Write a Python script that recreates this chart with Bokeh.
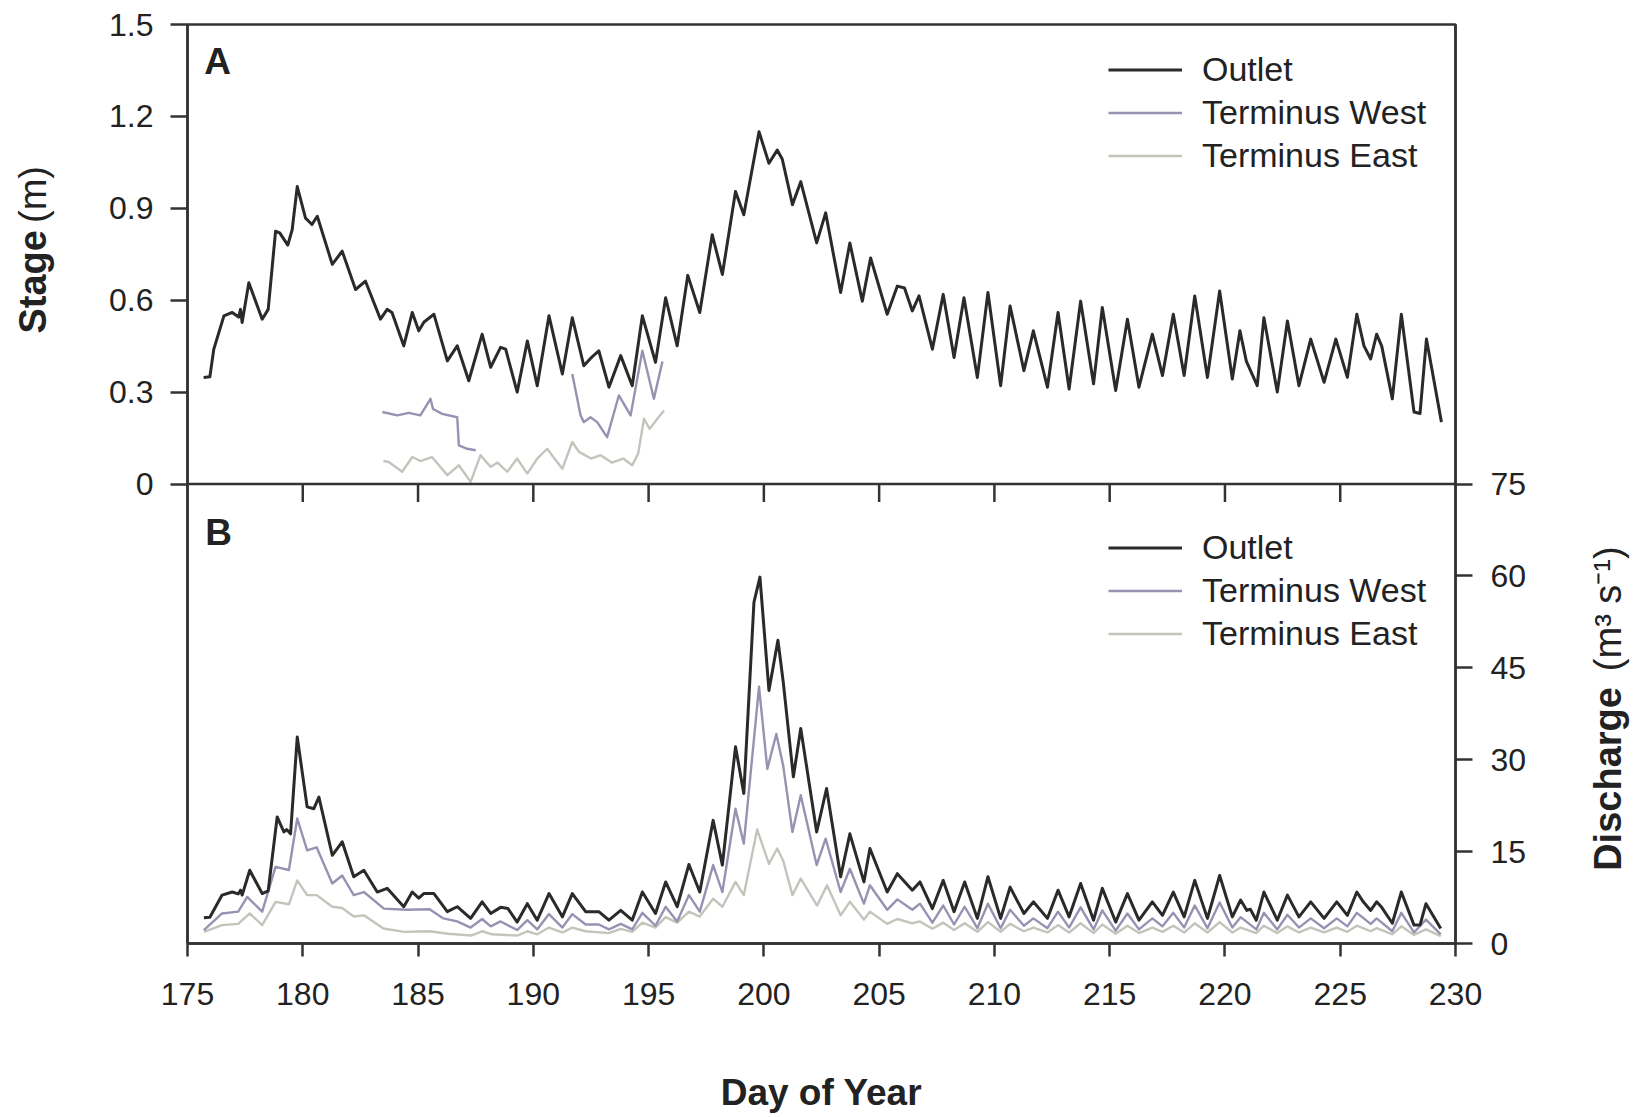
import math
from bokeh.plotting import figure
from bokeh.layouts import row
from bokeh.models import Range1d, LinearAxis, FixedTicker, Span, Label, Legend, LegendItem
from bokeh.embed import file_html
from bokeh.resources import INLINE

NaN = float("nan")

# ---------------- axes / ticks ----------------
day_ticks = [175, 180, 185, 190, 195, 200, 205, 210, 215, 220, 225, 230]
stage_ticks = [0, 0.3, 0.6, 0.9, 1.2, 1.5]
stage_tick_labels = ["0", "0.3", "0.6", "0.9", "1.2", "1.5"]
discharge_ticks = [0, 15, 30, 45, 60, 75]

series_names = ["Outlet", "Terminus West", "Terminus East"]

# ---------------- Panel A: stage (m) ----------------
outlet_stage_day = [175.70, 175.97, 176.14, 176.58, 176.94, 177.22, 177.30, 177.37, 177.66, 178.24,
                    178.50, 178.82, 179.00, 179.35, 179.54, 179.76, 180.12, 180.40, 180.63, 181.28,
                    181.71, 182.29, 182.72, 183.37, 183.66, 183.87, 184.38, 184.75, 185.03, 185.26,
                    185.69, 186.27, 186.70, 187.20, 187.78, 188.15, 188.58, 188.80, 189.30, 189.74,
                    190.17, 190.68, 191.26, 191.69, 192.19, 192.48, 192.84, 193.28, 193.79, 194.29,
                    194.73, 195.30, 195.74, 196.24, 196.70, 197.22, 197.76, 198.20, 198.77, 199.13,
                    199.79, 200.22, 200.58, 200.80, 201.24, 201.60, 202.29, 202.68, 203.33, 203.73,
                    204.27, 204.63, 205.35, 205.79, 206.10, 206.44, 206.73, 207.31, 207.78, 208.25,
                    208.68, 209.26, 209.72, 210.27, 210.68, 211.28, 211.69, 212.30, 212.76, 213.24,
                    213.74, 214.30, 214.68, 215.26, 215.77, 216.27, 216.85, 217.29, 217.76, 218.23,
                    218.69, 219.24, 219.77, 220.32, 220.65, 220.93, 221.40, 221.69, 222.27, 222.71,
                    223.21, 223.72, 224.30, 224.81, 225.31, 225.72, 226.03, 226.32, 226.58, 226.80,
                    227.26, 227.65, 228.20, 228.46, 228.74, 229.39]
outlet_stage = [0.348, 0.350, 0.440, 0.549, 0.560, 0.545, 0.570, 0.527, 0.657, 0.538,
                0.570, 0.825, 0.820, 0.780, 0.830, 0.971, 0.868, 0.847, 0.874, 0.717,
                0.760, 0.635, 0.662, 0.538, 0.570, 0.560, 0.451, 0.560, 0.500, 0.529,
                0.554, 0.402, 0.451, 0.337, 0.489, 0.381, 0.446, 0.440, 0.300, 0.467,
                0.321, 0.549, 0.359, 0.543, 0.386, 0.410, 0.435, 0.316, 0.419, 0.321,
                0.549, 0.397, 0.608, 0.451, 0.681, 0.560, 0.814, 0.684, 0.955, 0.879,
                1.150, 1.047, 1.090, 1.060, 0.912, 0.987, 0.787, 0.885, 0.625, 0.787,
                0.597, 0.738, 0.554, 0.646, 0.640, 0.565, 0.614, 0.440, 0.619, 0.413,
                0.608, 0.348, 0.625, 0.321, 0.581, 0.370, 0.500, 0.316, 0.560, 0.310,
                0.597, 0.327, 0.576, 0.305, 0.538, 0.316, 0.489, 0.354, 0.554, 0.354,
                0.614, 0.348, 0.630, 0.343, 0.500, 0.400, 0.321, 0.543, 0.300, 0.532,
                0.321, 0.473, 0.332, 0.473, 0.348, 0.554, 0.451, 0.408, 0.489, 0.450,
                0.278, 0.554, 0.235, 0.230, 0.473, 0.202]

west_stage_day = [183.45, 184.10, 184.60, 185.10, 185.54, 185.65, 186.05, 186.70, 186.77, 187.13,
                  187.50, 187.60,
                  191.69, 192.05, 192.19, 192.48, 192.77, 193.20, 193.71, 194.22, 194.73, 195.23,
                  195.60]
west_stage = [0.235, 0.224, 0.232, 0.224, 0.278, 0.245, 0.229, 0.218, 0.126, 0.115,
              0.110, NaN,
              0.359, 0.224, 0.202, 0.218, 0.202, 0.153, 0.289, 0.224, 0.435, 0.278,
              0.400]

east_stage_day = [183.50, 183.73, 184.31, 184.75, 185.10, 185.60, 186.27, 186.77, 187.28, 187.71,
                  188.15, 188.45, 188.87, 189.30, 189.74, 190.17, 190.60, 190.85, 191.26, 191.69,
                  191.98, 192.50, 192.92, 193.40, 193.90, 194.29, 194.55, 194.80, 195.05, 195.38,
                  195.67]
east_stage = [0.075, 0.072, 0.040, 0.088, 0.075, 0.088, 0.029, 0.061, 0.007, 0.094,
              0.056, 0.070, 0.040, 0.083, 0.034, 0.083, 0.115, 0.090, 0.050, 0.137,
              0.105, 0.083, 0.094, 0.070, 0.083, 0.061, 0.100, 0.213, 0.180, 0.213,
              0.240]

# ---------------- Panel B: discharge (m3 s-1) ----------------
outlet_q_day = [175.71, 175.97, 176.50, 176.94, 177.20, 177.30, 177.37, 177.70, 178.24, 178.50,
                178.89, 179.18, 179.30, 179.47, 179.76, 180.19, 180.48, 180.70, 181.28, 181.71,
                182.21, 182.65, 183.23, 183.66, 184.38, 184.75, 185.03, 185.25, 185.69, 186.27,
                186.70, 187.28, 187.78, 188.15, 188.58, 188.90, 189.30, 189.74, 190.17, 190.68,
                191.26, 191.69, 192.27, 192.84, 193.28, 193.79, 194.29, 194.73, 195.30, 195.74,
                196.24, 196.75, 197.22, 197.80, 198.20, 198.77, 199.13, 199.57, 199.83, 200.22,
                200.61, 200.84, 201.28, 201.60, 202.29, 202.72, 203.33, 203.73, 204.34, 204.60,
                205.35, 205.79, 206.44, 206.77, 207.31, 207.78, 208.25, 208.71, 209.26, 209.72,
                210.27, 210.68, 211.28, 211.69, 212.30, 212.76, 213.24, 213.74, 214.30, 214.68,
                215.26, 215.77, 216.27, 216.85, 217.29, 217.76, 218.23, 218.69, 219.24, 219.77,
                220.32, 220.68, 220.95, 221.10, 221.36, 221.69, 222.27, 222.71, 223.21, 223.72,
                224.30, 224.85, 225.31, 225.72, 226.00, 226.32, 226.58, 226.80, 227.26, 227.65,
                228.20, 228.46, 228.72, 229.36]
outlet_q = [4.2, 4.3, 7.9, 8.4, 8.1, 8.7, 7.9, 11.95, 8.15, 8.6,
            20.65, 18.2, 18.6, 17.9, 33.7, 22.3, 22.0, 23.9, 14.4, 16.6,
            10.9, 11.95, 8.4, 9.0, 6.0, 8.4, 7.4, 8.15, 8.15, 5.2,
            6.0, 4.1, 6.8, 4.9, 5.9, 5.7, 3.5, 6.5, 3.8, 8.15,
            4.35, 8.15, 5.2, 5.2, 3.8, 5.4, 3.8, 8.4, 4.9, 10.05,
            6.0, 12.9, 8.4, 20.1, 12.8, 32.1, 24.5, 55.7, 59.8, 41.3,
            49.5, 42.7, 27.2, 35.1, 18.2, 25.3, 10.9, 17.9, 10.05, 15.5,
            8.4, 11.4, 8.7, 10.05, 5.7, 10.3, 5.2, 10.05, 4.1, 10.9,
            4.1, 9.2, 4.9, 6.8, 4.1, 8.7, 4.35, 9.8, 3.8, 9.0,
            3.5, 8.15, 3.8, 6.8, 4.6, 8.4, 4.35, 10.3, 4.1, 11.1,
            4.35, 7.1, 5.4, 5.6, 3.8, 8.4, 3.8, 7.9, 4.35, 6.8,
            4.1, 6.8, 4.6, 8.4, 6.8, 5.4, 6.8, 5.9, 3.3, 8.4,
            3.0, 3.0, 6.5, 2.45]

west_q_day = [175.71, 176.50, 177.20, 177.59, 178.24, 178.82, 179.40, 179.76, 180.19, 180.60,
              181.28, 181.71, 182.21, 182.65, 183.52, 184.50, 185.50, 186.10, 186.70, 187.28,
              187.78, 188.15, 188.58, 189.30, 189.74, 190.17, 190.68, 191.26, 191.69, 192.27,
              192.84, 193.28, 193.79, 194.29, 194.73, 195.30, 195.74, 196.24, 196.75, 197.22,
              197.80, 198.20, 198.77, 199.13, 199.79, 200.15, 200.54, 200.84, 201.24, 201.60,
              202.29, 202.68, 203.33, 203.73, 204.34, 204.60, 205.35, 205.79, 206.44, 206.77,
              207.31, 207.78, 208.25, 208.71, 209.26, 209.72, 210.27, 210.68, 211.28, 211.69,
              212.30, 212.76, 213.24, 213.74, 214.30, 214.68, 215.26, 215.77, 216.27, 216.85,
              217.29, 217.76, 218.23, 218.69, 219.24, 219.77, 220.32, 220.68, 221.36, 221.69,
              222.27, 222.71, 223.21, 223.72, 224.30, 224.85, 225.31, 225.72, 226.32, 226.58,
              227.26, 227.65, 228.20, 228.72, 229.36]
west_q = [2.2, 4.9, 5.2, 7.6, 5.2, 12.5, 12.0, 20.4, 15.2, 15.7,
          9.8, 11.1, 7.9, 8.4, 5.7, 5.5, 5.6, 4.1, 3.6, 2.6,
          4.0, 2.8, 3.6, 2.2, 3.8, 2.3, 4.8, 2.6, 4.8, 3.1,
          3.1, 2.3, 3.2, 2.3, 5.0, 2.9, 6.0, 3.6, 7.9, 5.2,
          12.8, 8.4, 22.0, 16.3, 41.9, 28.5, 34.2, 29.0, 18.2, 24.2,
          12.8, 17.1, 8.4, 12.2, 6.5, 9.5, 5.5, 7.2, 5.5, 6.5,
          3.4, 6.2, 3.1, 6.0, 2.5, 6.5, 2.5, 5.5, 2.9, 4.1,
          2.5, 5.2, 2.6, 5.9, 2.3, 5.4, 2.1, 4.9, 2.3, 4.1,
          2.8, 5.0, 2.6, 6.2, 2.5, 6.7, 2.6, 4.3, 2.3, 5.0,
          2.3, 4.7, 2.6, 4.1, 2.5, 4.1, 2.8, 5.0, 3.2, 4.1,
          2.0, 5.0, 1.8, 3.9, 1.5]

east_q_day = [175.71, 176.50, 177.20, 177.70, 178.24, 178.82, 179.40, 179.76, 180.19, 180.60,
              181.28, 181.71, 182.21, 182.65, 183.50, 184.40, 185.50, 186.30, 187.30, 187.80,
              188.20, 189.30, 189.74, 190.17, 190.68, 191.26, 191.69, 192.27, 193.28, 193.79,
              194.29, 194.73, 195.30, 195.74, 196.24, 196.75, 197.22, 197.80, 198.20, 198.77,
              199.13, 199.71, 200.22, 200.58, 200.84, 201.24, 201.60, 202.31, 202.74, 203.33,
              203.73, 204.34, 204.60, 205.35, 205.79, 206.44, 206.77, 207.31, 207.78, 208.25,
              208.71, 209.26, 209.72, 210.27, 210.68, 211.28, 211.69, 212.30, 212.76, 213.24,
              213.74, 214.30, 214.68, 215.26, 215.77, 216.27, 216.85, 217.29, 217.76, 218.23,
              218.69, 219.24, 219.77, 220.32, 220.68, 221.36, 221.69, 222.27, 222.71, 223.21,
              223.72, 224.30, 224.85, 225.31, 225.72, 226.32, 226.58, 227.26, 227.65, 228.20,
              228.72, 229.36]
east_q = [1.9, 3.0, 3.2, 4.9, 3.0, 6.8, 6.4, 10.3, 7.9, 7.9,
          6.0, 5.8, 4.4, 4.6, 2.45, 1.9, 2.0, 1.6, 1.3, 2.0,
          1.5, 1.3, 2.0, 1.5, 2.6, 1.8, 2.6, 2.0, 1.7, 2.4,
          1.9, 3.4, 2.6, 4.3, 3.4, 5.2, 4.4, 7.3, 6.0, 10.05,
          7.9, 18.6, 13.0, 15.5, 13.5, 7.9, 10.6, 6.2, 9.5, 4.6,
          6.8, 3.9, 5.2, 3.2, 4.0, 3.3, 3.6, 2.4, 3.4, 2.2,
          3.3, 1.9, 3.5, 1.9, 3.2, 2.0, 2.6, 1.8, 3.0, 1.8,
          3.3, 1.7, 3.1, 1.6, 2.9, 1.7, 2.6, 1.9, 2.9, 1.8,
          3.3, 1.8, 3.5, 1.8, 2.6, 1.7, 2.9, 1.7, 2.8, 1.8,
          2.6, 1.8, 2.6, 1.9, 2.9, 2.0, 2.5, 1.5, 2.8, 1.4,
          2.3, 1.2]

# ---------------- styling ----------------
FONT = "Liberation Sans"
AX = "#333333"
TXT = "#222222"
OUTLET_C = "#2a2a2a"
WEST_C = "#9494b2"
EAST_C = "#c4c4bc"
AXW = 2.5

H = 1115            # height of every figure
TOP = 24            # frame top (page px)
BOTTOM = H - 945    # space below frame
SIDE_W = 60         # width of the side strips holding the rotated titles
MAIN_W = 1515

y_range = Range1d(-1.5, 1.5)   # stage scale: panel A is the upper half


def strip(width):
    f = figure(width=width, height=H, output_backend="svg", toolbar_location=None,
               x_range=Range1d(0, width), y_range=y_range,
               x_axis_location=None, y_axis_location=None,
               min_border_left=0, min_border_right=0,
               min_border_top=TOP, min_border_bottom=BOTTOM)
    f.grid.visible = False
    f.outline_line_color = None
    f.background_fill_color = "white"
    f.border_fill_color = "white"
    return f


def style_axis(ax, tick_out, standoff):
    ax.axis_line_color = AX
    ax.axis_line_width = AXW
    ax.major_tick_line_color = AX
    ax.major_tick_line_width = AXW
    ax.major_tick_out = tick_out
    ax.major_tick_in = 0
    ax.minor_tick_line_color = None
    ax.major_label_text_font = FONT
    ax.major_label_text_font_size = "32px"
    ax.major_label_text_color = TXT
    ax.major_label_standoff = standoff
    ax.axis_label_text_font = FONT
    ax.axis_label_text_font_size = "37px"
    ax.axis_label_text_font_style = "bold"
    ax.axis_label_text_color = TXT


# ================= main figure (both panels share one frame) =================
p = figure(width=MAIN_W, height=H, output_backend="svg", toolbar_location=None,
           x_range=Range1d(175, 230), y_range=y_range,
           min_border_left=187 - SIDE_W, min_border_right=SIDE_W + MAIN_W - 1455,
           min_border_top=TOP, min_border_bottom=BOTTOM)
p.extra_y_ranges = {"q": Range1d(0, 150)}   # discharge scale: panel B is the lower half
p.grid.visible = False
p.background_fill_color = "white"
p.border_fill_color = "white"
p.outline_line_color = AX
p.outline_line_width = AXW

xa = p.xaxis[0]
xa.ticker = FixedTicker(ticks=day_ticks)
style_axis(xa, 13, 26)
xa.axis_label = "Day of Year"
xa.axis_label_standoff = 64

ya = p.yaxis[0]
ya.ticker = FixedTicker(ticks=stage_ticks)
ya.major_label_overrides = dict(zip(stage_ticks, stage_tick_labels))
style_axis(ya, 17, 17)

ra = LinearAxis(y_range_name="q", ticker=FixedTicker(ticks=discharge_ticks))
style_axis(ra, 17, 18)
p.add_layout(ra, "right")

# line between the panels = day axis of panel A, its ticks pointing down
p.add_layout(Span(location=0, dimension="width", line_color=AX, line_width=AXW))
inner_ticks = day_ticks[1:-1]
p.ray(x=inner_ticks, y=[0] * len(inner_ticks), length=18, length_units="screen",
      angle=-math.pi / 2, line_color=AX, line_width=AXW)

lkw = dict(line_join="round")
rA_o = p.line(outlet_stage_day, outlet_stage, line_color=OUTLET_C, line_width=3.0, **lkw)
rA_w = p.line(west_stage_day, west_stage, line_color=WEST_C, line_width=2.4, **lkw)
rA_e = p.line(east_stage_day, east_stage, line_color=EAST_C, line_width=2.4, **lkw)

rB_e = p.line(east_q_day, east_q, y_range_name="q", line_color=EAST_C, line_width=2.4, **lkw)
rB_w = p.line(west_q_day, west_q, y_range_name="q", line_color=WEST_C, line_width=2.4, **lkw)
rB_o = p.line(outlet_q_day, outlet_q, y_range_name="q", line_color=OUTLET_C, line_width=3.0, **lkw)


def make_legend(renderers, loc):
    items = [LegendItem(label=n, renderers=[r]) for n, r in zip(series_names, renderers)]
    lg = Legend(items=items, location=loc, orientation="vertical",
                glyph_width=74, glyph_height=43, label_height=43, spacing=0,
                label_standoff=20, padding=0, margin=0,
                border_line_color=None, background_fill_alpha=0,
                label_text_font=FONT, label_text_font_size="34px", label_text_color=TXT)
    p.add_layout(lg, "center")


make_legend([rA_o, rA_w, rA_e], (921, 766))
make_legend([rB_o, rB_w, rB_e], (921, 288))

p.add_layout(Label(x=30, y=882, x_units="screen", y_units="screen", text="A",
                   text_font=FONT, text_color=TXT, text_font_style="bold",
                   text_font_size="37px", text_align="center", text_baseline="middle"))
p.add_layout(Label(x=31, y=411, x_units="screen", y_units="screen", text="B",
                   text_font=FONT, text_color=TXT, text_font_style="bold",
                   text_font_size="37px", text_align="center", text_baseline="middle"))

# ================= left strip: "Stage (m)" =================
left = strip(SIDE_W)
left.add_layout(Label(x=32, y=0.829, text="Stage", angle=math.pi / 2,
                      text_font=FONT, text_color=TXT, text_font_style="bold",
                      text_font_size="38px", text_align="right", text_baseline="middle"))
left.add_layout(Label(x=32, y=0.852, text="(m)", angle=math.pi / 2,
                      text_font=FONT, text_color=TXT,
                      text_font_size="38px", text_align="left", text_baseline="middle"))

# ================= right strip: "Discharge (m3 s-1)" =================
right = strip(SIDE_W)
right.add_layout(Label(x=32, y=-0.663, text="Discharge", angle=math.pi / 2,
                       text_font=FONT, text_color=TXT, text_font_style="bold",
                       text_font_size="38px", text_align="right", text_baseline="middle"))
right.add_layout(Label(x=32, y=-0.611, text="(m\u00b3 s\u207b\u00b9)", angle=math.pi / 2,
                       text_font=FONT, text_color=TXT,
                       text_font_size="38px", text_align="left", text_baseline="middle"))

layout = row(left, p, right, spacing=0)
open("out.html", "w").write(file_html(layout, INLINE))
